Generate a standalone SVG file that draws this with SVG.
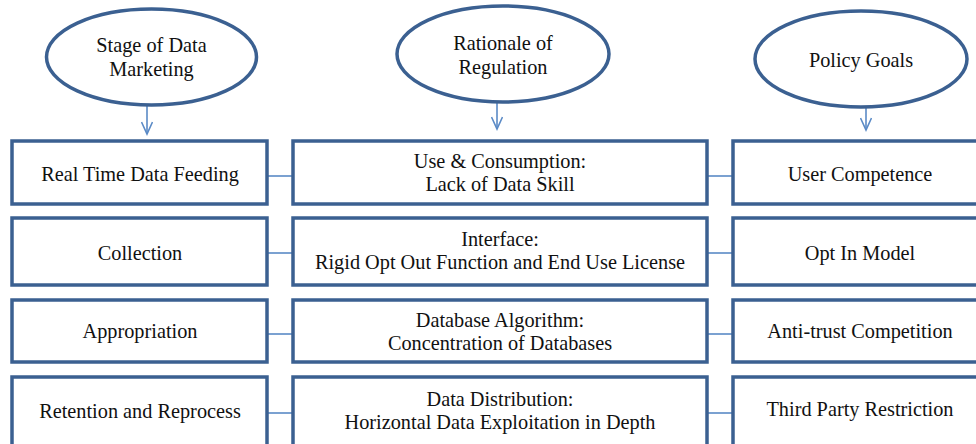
<svg xmlns="http://www.w3.org/2000/svg" width="976" height="444" viewBox="0 0 976 444">
<defs>
<style>
.box{fill:#fff;stroke:#3b6091;stroke-width:3.5;}
.ell{fill:#fff;stroke:#3b6091;stroke-width:3.5;}
.t{font-family:"Liberation Serif","Times New Roman",serif;font-size:20.3px;fill:#111;text-anchor:middle;}
.c{stroke:#5a8ac6;stroke-width:1.6;fill:none;}
</style>
<marker id="ah" markerWidth="16" markerHeight="12" refX="14" refY="6" orient="auto" markerUnits="userSpaceOnUse">
<path d="M2,0.5 L14,6 L2,11.5" fill="none" stroke="#5a8ac6" stroke-width="1.6"/>
</marker>
</defs>
<rect width="976" height="444" fill="#fff"/>
<g id="connectors">
<line class="c" x1="147" y1="105" x2="147" y2="134" marker-end="url(#ah)"/>
<line class="c" x1="497" y1="102" x2="497" y2="129" marker-end="url(#ah)"/>
<line class="c" x1="866" y1="107" x2="866" y2="130" marker-end="url(#ah)"/>
<line class="c" x1="267" y1="176" x2="293" y2="176"/>
<line class="c" x1="707" y1="176" x2="733" y2="176"/>
<line class="c" x1="267" y1="253" x2="293" y2="253"/>
<line class="c" x1="707" y1="253" x2="733" y2="253"/>
<line class="c" x1="267" y1="334" x2="293" y2="334"/>
<line class="c" x1="707" y1="334" x2="733" y2="334"/>
<line class="c" x1="267" y1="413" x2="293" y2="413"/>
<line class="c" x1="707" y1="413" x2="733" y2="413"/>
</g>
<g id="ellipse-stage">
<ellipse class="ell" cx="151.5" cy="57" rx="105" ry="48"/>
<text class="t" x="151.5" y="52">Stage of Data</text>
<text class="t" x="151.5" y="76">Marketing</text>
</g>
<g id="ellipse-rationale">
<ellipse class="ell" cx="503" cy="54" rx="106" ry="48"/>
<text class="t" x="503" y="50">Rationale of</text>
<text class="t" x="503" y="74">Regulation</text>
</g>
<g id="ellipse-policy">
<ellipse class="ell" cx="861" cy="59" rx="106" ry="48"/>
<text class="t" x="861" y="67">Policy Goals</text>
</g>
<g id="l1"><rect class="box" x="12" y="141" width="255" height="63"/><text class="t" x="140" y="181">Real Time Data Feeding</text></g>
<g id="l2"><rect class="box" x="12" y="218" width="255" height="67"/><text class="t" x="140" y="260">Collection</text></g>
<g id="l3"><rect class="box" x="12" y="300" width="255" height="62"/><text class="t" x="140" y="338">Appropriation</text></g>
<g id="l4"><rect class="box" x="12" y="377" width="255" height="72"/><text class="t" x="140" y="418">Retention and Reprocess</text></g>
<g id="m1"><rect class="box" x="293" y="141" width="414" height="63"/><text class="t" x="500" y="168">Use &amp; Consumption:</text><text class="t" x="500" y="191">Lack of Data Skill</text></g>
<g id="m2"><rect class="box" x="293" y="218" width="414" height="67"/><text class="t" x="500" y="246">Interface:</text><text class="t" x="500" y="269">Rigid Opt Out Function and End Use License</text></g>
<g id="m3"><rect class="box" x="293" y="300" width="414" height="62"/><text class="t" x="500" y="327">Database Algorithm:</text><text class="t" x="500" y="350">Concentration of Databases</text></g>
<g id="m4"><rect class="box" x="293" y="377" width="414" height="72"/><text class="t" x="500" y="406">Data Distribution:</text><text class="t" x="500" y="429">Horizontal Data Exploitation in Depth</text></g>
<g id="r1"><rect class="box" x="733" y="141" width="254" height="63"/><text class="t" x="860" y="181">User Competence</text></g>
<g id="r2"><rect class="box" x="733" y="218" width="254" height="67"/><text class="t" x="860" y="260">Opt In Model</text></g>
<g id="r3"><rect class="box" x="733" y="300" width="254" height="62"/><text class="t" x="860" y="338">Anti-trust Competition</text></g>
<g id="r4"><rect class="box" x="733" y="377" width="254" height="72"/><text class="t" x="860" y="416">Third Party Restriction</text></g>
</svg>
